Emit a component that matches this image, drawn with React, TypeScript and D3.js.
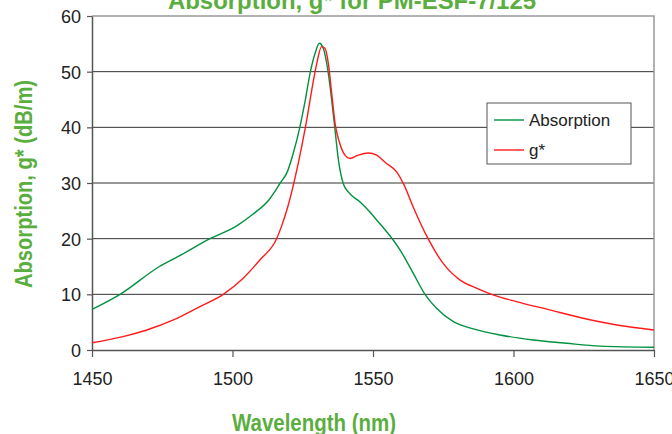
import { useEffect, useRef } from 'react'
import * as d3 from 'd3'

// Absorption curve (wavelength nm, dB/m)
const absWl = [1450, 1460, 1474, 1481, 1492, 1501.5, 1507, 1513, 1517, 1519.5, 1521.6, 1524, 1525.8, 1527.6, 1529.4, 1530.9, 1532.3, 1534.1, 1535.3, 1536.5, 1537.7, 1539.4, 1541.2, 1545.4, 1548.9, 1551.9, 1554.3, 1559.6, 1564.3, 1568.5, 1572.6, 1578.6, 1585.7, 1595.2, 1607, 1618.9, 1630.8, 1650]
const absVal = [7.3, 10, 15, 16.9, 20, 22.3, 24.3, 27, 30, 32, 35.3, 40.1, 44.6, 49.7, 53.3, 55.1, 54.2, 49.7, 44.9, 39.5, 34.1, 29.9, 28.4, 26.6, 24.8, 23, 21.6, 18, 13.8, 10, 7.5, 5.1, 3.8, 2.7, 1.8, 1.2, 0.7, 0.5]

// g* curve
const gWl = [1450, 1461, 1469.5, 1479, 1488.4, 1496.7, 1503.8, 1509.8, 1515.7, 1517.5, 1519.6, 1522.2, 1524.6, 1526.4, 1528.2, 1530, 1531.7, 1532.9, 1534.1, 1535.3, 1536.5, 1538, 1540, 1541.8, 1544.7, 1548.3, 1551.3, 1554.8, 1558.4, 1561, 1564.3, 1569.6, 1574.9, 1580.9, 1586.8, 1592.7, 1601, 1612.9, 1624.8, 1636.7, 1650]
const gVal = [1.3, 2.4, 3.6, 5.4, 7.8, 10, 12.9, 16.2, 20, 22.3, 25.6, 30.8, 36.5, 41.3, 46.7, 51.5, 54.5, 54.2, 51.5, 46.1, 40.7, 37.4, 35, 34.4, 35, 35.4, 35, 33.5, 32, 29.7, 25.7, 20, 15.6, 12.6, 11.1, 9.9, 8.7, 7.2, 5.7, 4.5, 3.6]

const xTicks = [1450, 1500, 1550, 1600, 1650]
const yTicks = [0, 10, 20, 30, 40, 50, 60]
const seriesNames = ['Absorption', 'g*']

export default function App() {
  const svgRef = useRef<SVGSVGElement>(null)

  useEffect(() => {
    if (!svgRef.current) return
    const svg = d3.select(svgRef.current)
    svg.selectAll('*').remove()

    const width = 672
    const height = 434
    const left = 92, right = 654, top = 16, bottom = 350
    const sans = "'Liberation Sans', Arial, sans-serif"
    const titleGreen = '#5aae3e'
    const colors = ['#00913f', '#ff1a1a']

    svg.attr('width', width).attr('height', height)

    const x = d3.scaleLinear().domain([1450, 1650]).range([left, right])
    const y = d3.scaleLinear().domain([0, 60]).range([bottom, top])

    // grid lines
    svg.append('g')
      .selectAll('line')
      .data(yTicks.filter(t => t > 0 && t < 60))
      .enter()
      .append('line')
      .attr('x1', left).attr('x2', right)
      .attr('y1', d => y(d)).attr('y2', d => y(d))
      .attr('stroke', '#333')
      .attr('stroke-width', 1)

    // plot frame top/right
    svg.append('path')
      .attr('d', `M${left},${top}H${right}V${bottom}`)
      .attr('fill', 'none')
      .attr('stroke', '#999')
      .attr('stroke-width', 1.5)

    // axes
    const yAxis = svg.append('g')
      .attr('transform', `translate(${left},0)`)
      .call(d3.axisLeft(y).tickValues(yTicks).tickSize(5).tickSizeOuter(0).tickFormat(d3.format('d')))
    const xAxis = svg.append('g')
      .attr('transform', `translate(0,${bottom})`)
      .call(d3.axisBottom(x).tickValues(xTicks).tickSize(7).tickSizeOuter(0).tickFormat(d3.format('d')))

    for (const ax of [yAxis, xAxis]) {
      ax.select('.domain').attr('stroke', '#555').attr('stroke-width', 1.5)
      ax.selectAll('.tick line').attr('stroke', '#555').attr('stroke-width', 1.2)
      ax.selectAll('.tick text')
        .attr('font-family', sans)
        .attr('font-size', 18)
        .attr('fill', '#222')
    }
    yAxis.selectAll('.tick text').attr('x', -11).attr('dy', '0.36em')
    xAxis.selectAll('.tick text').attr('y', 22)

    // curves
    const line = d3.line<[number, number]>()
      .x(d => x(d[0]))
      .y(d => y(d[1]))
      .curve(d3.curveMonotoneX)

    const series: [number, number][][] = [
      absWl.map((w, i) => [w, absVal[i]]),
      gWl.map((w, i) => [w, gVal[i]]),
    ]
    series.forEach((s, i) => {
      svg.append('path')
        .attr('d', line(s))
        .attr('fill', 'none')
        .attr('stroke', colors[i])
        .attr('stroke-width', 1.4)
    })

    // legend
    const lg = svg.append('g').attr('transform', 'translate(487,103)')
    lg.append('rect')
      .attr('width', 144).attr('height', 61)
      .attr('fill', '#fff')
      .attr('stroke', '#555')
      .attr('stroke-width', 1)
    seriesNames.forEach((name, i) => {
      const cy = 17 + i * 30
      lg.append('line')
        .attr('x1', 7).attr('x2', 37)
        .attr('y1', cy).attr('y2', cy)
        .attr('stroke', colors[i])
        .attr('stroke-width', 1.4)
      lg.append('text')
        .attr('x', 42).attr('y', cy)
        .attr('dy', '0.36em')
        .attr('font-family', sans)
        .attr('font-size', 17)
        .attr('fill', '#222')
        .text(name)
    })

    // titles (condensed bold look via textLength)
    svg.append('text')
      .attr('x', 352).attr('y', 9)
      .attr('text-anchor', 'middle')
      .attr('font-family', sans)
      .attr('font-weight', 'bold')
      .attr('font-size', 24)
      .attr('fill', titleGreen)
      .attr('textLength', 368)
      .attr('lengthAdjust', 'spacingAndGlyphs')
      .text('Absorption, g* for PM-ESF-7/125')

    svg.append('text')
      .attr('x', 314).attr('y', 431)
      .attr('text-anchor', 'middle')
      .attr('font-family', sans)
      .attr('font-weight', 'bold')
      .attr('font-size', 23)
      .attr('fill', titleGreen)
      .attr('textLength', 164)
      .attr('lengthAdjust', 'spacingAndGlyphs')
      .text('Wavelength (nm)')

    svg.append('text')
      .attr('transform', 'translate(32,184) rotate(-90)')
      .attr('text-anchor', 'middle')
      .attr('font-family', sans)
      .attr('font-weight', 'bold')
      .attr('font-size', 23)
      .attr('fill', titleGreen)
      .attr('textLength', 208)
      .attr('lengthAdjust', 'spacingAndGlyphs')
      .text('Absorption, g* (dB/m)')
  }, [])

  return (
    <svg ref={svgRef} style={{ position: 'absolute', left: 0, top: 0, background: '#fff' }}></svg>
  )
}
